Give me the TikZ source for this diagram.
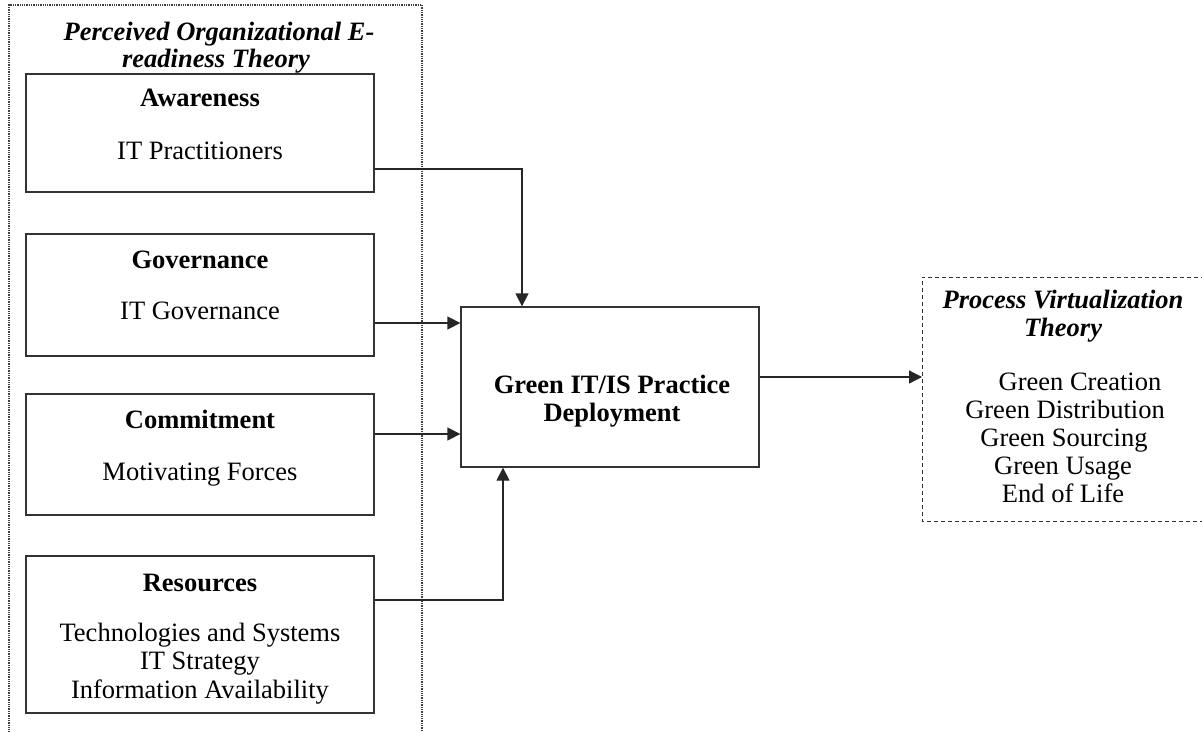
\documentclass[tikz,border=0pt]{standalone}
\usepackage{fontspec}
\setmainfont{Liberation Serif}
\usetikzlibrary{arrows.meta}
\begin{document}
\begin{tikzpicture}[x=1pt,y=-1pt,
  box/.style={draw=black!80,line width=1.3pt,rectangle,inner sep=0pt},
  txt/.style={anchor=base,inner sep=0pt,font=\fontsize{26.5}{28.5}\selectfont},
  hd/.style={txt,font=\fontsize{26.5}{28.5}\selectfont\bfseries},
  ttl/.style={txt,font=\fontsize{26.5}{28.5}\selectfont\bfseries\itshape},
  arr/.style={draw=black!85,line width=1.3pt,-{Triangle[length=13pt,width=13pt]}},
  ln/.style={draw=black!85,line width=1.3pt}]
\useasboundingbox (0,0) rectangle (1202,731);
% outer dotted frame (open at bottom)
\draw[densely dotted,line width=1.3pt,black!75] (9,735) -- (9,5) -- (422,5) -- (422,735);
\node[ttl] (t1) at (219,40) {Perceived Organizational E-};
\node[ttl] (t2) at (216,67) {readiness Theory};
% boxes
\node[box,minimum width=348pt,minimum height=118pt] (aw) at (200,133) {};
\node[box,minimum width=348pt,minimum height=122pt] (gv) at (200,295) {};
\node[box,minimum width=348pt,minimum height=121pt] (cm) at (200,454.5) {};
\node[box,minimum width=348pt,minimum height=157pt] (rs) at (200,634.5) {};
\node[box,minimum width=298pt,minimum height=160pt] (gr) at (610,387) {};
% texts
\node[hd] (awh) at (200,106) {Awareness};
\node[txt] (awb) at (200,159) {IT Practitioners};
\node[hd] (gvh) at (200,268) {Governance};
\node[txt] (gvb) at (200,319) {IT Governance};
\node[hd] (cmh) at (200,428) {Commitment};
\node[txt] (cmb) at (200,480) {Motivating Forces};
\node[hd] (rsh) at (200,591) {Resources};
\node[txt] (rs1) at (200,641) {Technologies and Systems};
\node[txt] (rs2) at (200,669.5) {IT Strategy};
\node[txt] (rs3) at (200,698) {Information Availability};
\node[hd] (gr1) at (612,393) {Green IT/IS Practice};
\node[hd] (gr2) at (612,421.5) {Deployment};
% right dashed frame (open at right)
\draw[dash pattern=on 4pt off 3pt,line width=1pt,black!80] (1205,277) -- (922,277) -- (922,521) -- (1205,521);
\node[ttl] (p1) at (1063,308) {Process Virtualization};
\node[ttl] (p2) at (1063,336) {Theory};
\node[txt] (g1) at (1080,390) {Green Creation};
\node[txt] (g2) at (1065,418) {Green Distribution};
\node[txt] (g3) at (1064,446) {Green Sourcing};
\node[txt] (g4) at (1063,474) {Green Usage};
\node[txt] (g5) at (1063,502) {End of Life};
% connector coordinates
\coordinate (a1) at (522,169);
\coordinate (c2) at (461,323);
\coordinate (c3) at (461,434);
\coordinate (r1) at (503,600);
\coordinate (pvl) at (922,377);
% connectors
\draw[arr] (aw.east |- a1) -| (gr.north -| a1);
\draw[arr] (gv.east |- c2) -- (gr.west |- c2);
\draw[arr] (cm.east |- c3) -- (gr.west |- c3);
\draw[arr] (rs.east |- r1) -| (gr.south -| r1);
\draw[arr] (gr.east |- pvl) -- (pvl);
\end{tikzpicture}
\end{document}
